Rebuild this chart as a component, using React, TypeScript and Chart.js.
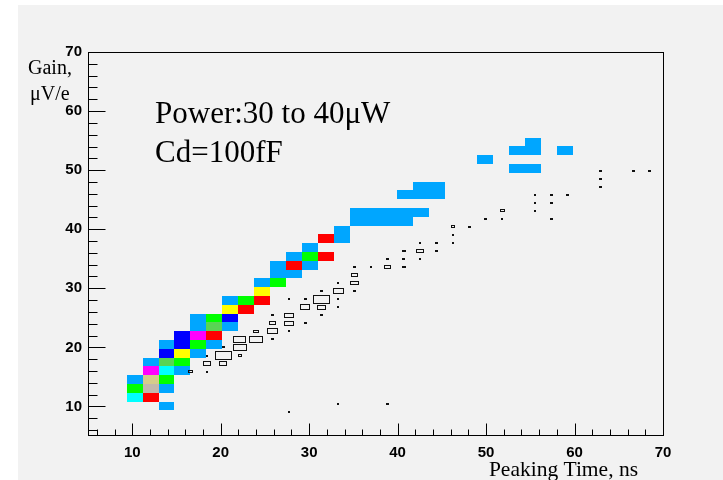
import React, { useEffect, useRef } from "react";
import { Chart, registerables } from "chart.js";

Chart.register(...registerables);

// ---- axes ----
const X_MIN = 5;
const X_MAX = 70;
const Y_MIN = 5;
const Y_MAX = 70;
const xTickValues = [10, 20, 30, 40, 50, 60, 70];
const yTickValues = [10, 20, 30, 40, 50, 60, 70];
const MINOR_STEP = 2;

// ---- texts ----
const xTitle = "Peaking Time, ns";
const yTitleLines = ["Gain,", "\u03BCV/e"];
const noteLines = ["Power:30 to 40\u03BCW", "Cd=100fF"];

// ---- colour histogram (COLZ) binning ----
const COLZ_X0 = 9.37; // first bin low edge (ns)
const COLZ_DX = 1.8; // bin width (ns)
const COLZ_Y0 = 9.32; // first bin low edge (uV/e)
const COLZ_DY = 1.49; // bin height (uV/e)
const colzBinX = [
  2,
  0, 1,
  0, 1, 2,
  0, 1, 2,
  1, 2, 3,
  1, 2, 3,
  2, 3, 4,
  2, 3, 4, 5,
  3, 4, 5,
  4, 5, 6,
  4, 5, 6,
  6, 7,
  6, 7, 8,
  8,
  8, 9,
  9, 10,
  9, 10, 11,
  10, 11, 12,
  11,
  12, 13,
  13,
  14, 15, 16, 17,
  14, 15, 16, 17, 18,
  17, 18, 19,
  18, 19,
  24, 25,
  22,
  24, 25, 27,
  25,
];
const colzBinY = [
  0,
  1, 1,
  2, 2, 2,
  3, 3, 3,
  4, 4, 4,
  5, 5, 5,
  6, 6, 6,
  7, 7, 7, 7,
  8, 8, 8,
  9, 9, 9,
  10, 10, 10,
  11, 11,
  12, 12, 12,
  13,
  14, 14,
  15, 15,
  16, 16, 16,
  17, 17, 17,
  18,
  19, 19,
  20,
  21, 21, 21, 21,
  22, 22, 22, 22, 22,
  24, 24, 24,
  25, 25,
  27, 27,
  28,
  29, 29, 29,
  30,
];
const colzCount = [
  1,
  7, 2,
  3, 10, 1,
  1, 9, 3,
  6, 7, 1,
  1, 8, 3,
  5, 4, 1,
  1, 5, 3, 1,
  5, 6, 2,
  1, 8, 1,
  1, 3, 5,
  4, 2,
  1, 3, 2,
  4,
  1, 3,
  1, 1,
  1, 2, 1,
  1, 3, 2,
  1,
  2, 1,
  1,
  1, 1, 1, 1,
  1, 1, 1, 1, 1,
  1, 1, 1,
  1, 1,
  1, 1,
  1,
  1, 1, 1,
  1,
];
const colzPalette = [
  "#f2f2f2",
  "#00a6ff",
  "#ff0000",
  "#00ff00",
  "#ffff00",
  "#0000ff",
  "#ff00ff",
  "#00ffff",
  "#59d454",
  "#d4cc8a",
  "#c2b8ad",
];

// ---- box histogram (BOX) binning ----
const BOX_X0 = 16.53; // first bin centre (ns)
const BOX_DX = 1.854;
const BOX_Y0 = 16.0; // first bin centre (uV/e)
const BOX_DY = 1.361;
const BOX_MAX = 10;
const boxBinX = [
  0, 1,
  1, 2,
  1, 2, 3,
  2, 3,
  3, 4, 5,
  4, 5, 6,
  5, 6, 7,
  5, 6, 8,
  7, 8, 9,
  6, 7, 8, 9,
  8, 9, 10,
  9, 10,
  10,
  10, 11, 12, 13,
  12, 13, 14,
  13, 14, 15,
  14, 15, 16,
  16,
  16, 17,
  18, 19, 22,
  19, 21,
  21, 22,
  21, 22, 23,
  25, 25,
  25, 27, 28,
  6, 9, 12,
];
const boxBinY = [
  0, 0,
  1, 1,
  2, 2, 2,
  3, 3,
  4, 4, 4,
  5, 5, 5,
  6, 6, 6,
  7, 7, 7,
  8, 8, 8,
  9, 9, 9, 9,
  10, 10, 10,
  11, 11,
  12,
  13, 13, 13, 13,
  14, 14, 14,
  15, 15, 15,
  16, 16, 16,
  17,
  18, 18,
  19, 19, 19,
  20, 20,
  21, 21,
  22, 22, 22,
  23, 24,
  25, 25, 25,
  -5, -4, -4,
];
const boxContent = [
  3, 1,
  4.5, 4.5,
  1, 10, 2,
  1, 8,
  7, 7.5, 1,
  3, 6.5, 1,
  3.5, 5, 1,
  1, 5, 1,
  5.5, 5, 1,
  1, 1, 10, 1,
  1, 6, 1,
  1, 4.5,
  3.5,
  1, 1, 3.5, 2,
  1, 1, 1,
  2, 4, 1,
  1, 1, 1,
  1,
  2, 1,
  1, 1, 1,
  2.5, 1,
  1, 1,
  1, 1, 1,
  1, 1,
  1, 1, 1,
  1, 1, 1,
];

const SERIF = "'Liberation Serif', 'Times New Roman', serif";
const SANS = "'Liberation Sans', Arial, Helvetica, sans-serif";

const drawPlugin = {
  id: "rootHist",
  beforeDraw(chart: any) {
    const ctx = chart.ctx;
    ctx.save();
    ctx.fillStyle = "#ffffff";
    ctx.fillRect(0, 0, chart.width, chart.height);
    ctx.fillStyle = "#f2f2f2";
    ctx.fillRect(18, 5, chart.width - 18, chart.height - 5);
    ctx.restore();
  },
  afterDatasetsDraw(chart: any) {
    const ctx = chart.ctx;
    const xs = chart.scales.x;
    const ys = chart.scales.y;
    const area = chart.chartArea;
    ctx.save();

    // colour cells
    const colz = chart.data.datasets[0].data;
    for (const p of colz) {
      const l = Math.round(xs.getPixelForValue(p.x - COLZ_DX / 2));
      const r = Math.round(xs.getPixelForValue(p.x + COLZ_DX / 2));
      const t = Math.round(ys.getPixelForValue(p.y + COLZ_DY / 2));
      const b = Math.round(ys.getPixelForValue(p.y - COLZ_DY / 2));
      ctx.fillStyle = colzPalette[p.v];
      ctx.fillRect(l, t, r - l, b - t);
    }

    // boxes
    const boxes = chart.data.datasets[1].data;
    ctx.strokeStyle = "#111111";
    ctx.lineWidth = 1;
    for (const p of boxes) {
      const f = p.v / BOX_MAX;
      const hw = (f * BOX_DX) / 2;
      const hh = (f * BOX_DY) / 2;
      const l = Math.round(xs.getPixelForValue(p.x - hw));
      let r = Math.round(xs.getPixelForValue(p.x + hw));
      const t = Math.round(ys.getPixelForValue(p.y + hh));
      let b = Math.round(ys.getPixelForValue(p.y - hh));
      if (r - l < 1) r = l + 1;
      if (b - t < 1) b = t + 1;
      ctx.strokeRect(l + 0.5, t + 0.5, r - l, b - t);
    }

    // frame
    ctx.strokeStyle = "#000000";
    ctx.lineWidth = 1;
    const L = Math.round(area.left);
    const R = Math.round(area.right);
    const T = Math.round(area.top);
    const B = Math.round(area.bottom) - 1;
    ctx.strokeRect(L + 0.5, T + 0.5, R - L, B - T);

    // inner tick marks
    ctx.beginPath();
    for (let v = X_MIN + 1; v < X_MAX; v += MINOR_STEP) {
      const px = Math.round(xs.getPixelForValue(v)) + 0.5;
      const major = Math.abs(v % 10) < 1e-6;
      ctx.moveTo(px, B + 0.5);
      ctx.lineTo(px, B + 0.5 - (major ? 12 : 6));
    }
    for (let v = Y_MIN + 1; v < Y_MAX; v += MINOR_STEP) {
      const py = Math.round(ys.getPixelForValue(v)) + 0.5;
      const major = Math.abs(v % 10) < 1e-6;
      ctx.moveTo(L + 0.5, py);
      ctx.lineTo(L + 0.5 + (major ? 17 : 9), py);
    }
    ctx.stroke();

    // texts
    ctx.fillStyle = "#000000";
    ctx.textBaseline = "alphabetic";
    ctx.textAlign = "left";
    ctx.font = `20px ${SERIF}`;
    ctx.fillText(yTitleLines[0], 28, 74);
    ctx.fillText(yTitleLines[1], 30, 100);
    ctx.font = `31px ${SERIF}`;
    ctx.fillText(noteLines[0], 155, 123);
    ctx.fillText(noteLines[1], 155, 162);
    ctx.font = `21.5px ${SERIF}`;
    ctx.textAlign = "right";
    ctx.fillText(xTitle, 638, 476);
    ctx.restore();
  },
};

export default function App() {
  const ref = useRef<HTMLCanvasElement | null>(null);

  useEffect(() => {
    if (!ref.current) return;
    const colzData = colzBinX.map((ix, k) => ({
      x: COLZ_X0 + (ix + 0.5) * COLZ_DX,
      y: COLZ_Y0 + (colzBinY[k] + 0.5) * COLZ_DY,
      v: colzCount[k],
    }));
    const boxData = boxBinX.map((ix, k) => ({
      x: BOX_X0 + ix * BOX_DX,
      y: BOX_Y0 + boxBinY[k] * BOX_DY,
      v: boxContent[k],
    }));
    const chart = new Chart(ref.current, {
      type: "scatter",
      data: {
        datasets: [
          { label: "COLZ", data: colzData as any, pointRadius: 0, showLine: false },
          { label: "BOX", data: boxData as any, pointRadius: 0, showLine: false },
        ],
      },
      plugins: [drawPlugin],
      options: {
        animation: false,
        responsive: false,
        devicePixelRatio: 1,
        events: [],
        layout: { padding: { left: 0, top: 52, right: 60, bottom: 0 } },
        plugins: {
          legend: { display: false },
          tooltip: { enabled: false },
          title: { display: false },
        },
        scales: {
          x: {
            type: "linear",
            min: X_MIN,
            max: X_MAX,
            grid: { display: false, drawTicks: false },
            border: { display: false },
            afterBuildTicks: (s: any) => {
              s.ticks = xTickValues.map((v) => ({ value: v }));
            },
            afterFit: (s: any) => {
              s.height = 44;
            },
            ticks: {
              padding: 8,
              color: "#000000",
              maxRotation: 0,
              autoSkip: false,
              font: { family: SANS, size: 15, weight: "bold" },
            },
          },
          y: {
            type: "linear",
            min: Y_MIN,
            max: Y_MAX,
            grid: { display: false, drawTicks: false },
            border: { display: false },
            afterBuildTicks: (s: any) => {
              s.ticks = yTickValues.map((v) => ({ value: v }));
            },
            afterFit: (s: any) => {
              s.width = 88;
            },
            ticks: {
              padding: 6,
              color: "#000000",
              autoSkip: false,
              font: { family: SANS, size: 15, weight: "bold" },
            },
          },
        },
      },
    });
    return () => chart.destroy();
  }, []);

  return (
    <div style={{ position: "absolute", left: 0, top: 0, width: 723, height: 480 }}>
      <canvas ref={ref} width={723} height={480} style={{ display: "block", width: 723, height: 480 }} />
    </div>
  );
}
